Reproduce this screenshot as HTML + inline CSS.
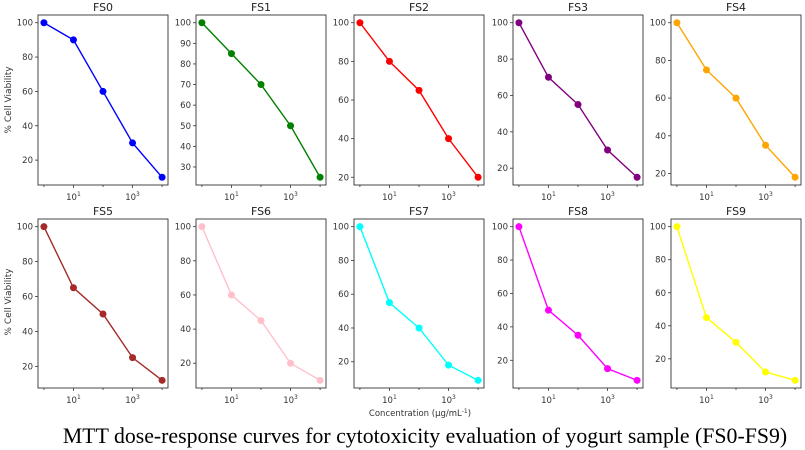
<!DOCTYPE html>
<html><head><meta charset="utf-8"><style>
html,body{margin:0;padding:0;background:#fff;}
svg{display:block;font-family:"DejaVu Sans","Liberation Sans",sans-serif;}
</style></head><body>
<svg id="s" width="805" height="450" xmlns="http://www.w3.org/2000/svg"></svg>
<script>
const data=[
["FS0","#0000ff",[100,90,60,30,10]],
["FS1","#008000",[100,85,70,50,25]],
["FS2","#ff0000",[100,80,65,40,20]],
["FS3","#800080",[100,70,55,30,15]],
["FS4","#ffa500",[100,75,60,35,18]],
["FS5","#a52a2a",[100,65,50,25,12]],
["FS6","#ffc0cb",[100,60,45,20,10]],
["FS7","#00ffff",[100,55,40,18,9]],
["FS8","#ff00ff",[100,50,35,15,8]],
["FS9","#ffff00",[100,45,30,12,7]]];
const lefts=[38,196,354,513,671],W=130;
const rows=[[15,185],[219,388]];
let h='';
data.forEach((d,i)=>{
 const c=i%5,r=Math.floor(i/5);
 const L=lefts[c],T=rows[r][0],B=rows[r][1],H=B-T;
 const v=d[2],mn=Math.min(...v),mx=Math.max(...v),rg=mx-mn;
 const lo=mn-0.05*rg,hi=mx+0.05*rg;
 const Y=y=>T+(hi-y)/(hi-lo)*H;
 const X=k=>L+(k+0.2)/4.4*W;
 h+=`<text x="${L+W/2}" y="${T-4}" font-size="11" text-anchor="middle" fill="#222">${d[0]}</text>`;
 const step=(d[0]=="FS1")?10:20;
 for(let t=Math.ceil(lo/step)*step;t<=hi;t+=step){
  const y=Y(t);
  h+=`<line x1="${L-3}" x2="${L}" y1="${y}" y2="${y}" stroke="#333" stroke-width="0.8"/>`;
  h+=`<text x="${L-5}" y="${y+3}" font-size="8.5" text-anchor="end" fill="#333">${t}</text>`;
 }
 for(let k=0;k<=4;k++){
  const x=X(k);
  h+=`<line x1="${x}" x2="${x}" y1="${B}" y2="${B+(k%2?3:2)}" stroke="#333" stroke-width="0.8"/>`;
  if(k==1||k==3) h+=`<text x="${x}" y="${B+15}" font-size="8.5" text-anchor="middle" fill="#333">10<tspan font-size="6" dy="-4">${k}</tspan></text>`;
 }
 h+=`<rect x="${L}" y="${T}" width="${W}" height="${H}" fill="none" stroke="#333" stroke-width="0.9"/>`;
 const pts=v.map((y,k)=>X(k)+','+Y(y)).join(' ');
 h+=`<polyline points="${pts}" fill="none" stroke="${d[1]}" stroke-width="1.4"/>`;
 v.forEach((y,k)=>h+=`<circle cx="${X(k)}" cy="${Y(y)}" r="3.5" fill="${d[1]}"/>`);
});
h+=`<text transform="translate(11,100) rotate(-90)" font-size="9" text-anchor="middle" fill="#333">% Cell Viability</text>`;
h+=`<text transform="translate(11,302) rotate(-90)" font-size="9" text-anchor="middle" fill="#333">% Cell Viability</text>`;
h+=`<text x="420" y="416" font-size="8.5" text-anchor="middle" fill="#333">Concentration (μg/mL<tspan font-size="6" dy="-3">-1</tspan><tspan dy="3">)</tspan></text>`;
h+=`<text x="425" y="443" font-size="21.8" text-anchor="middle" fill="#000" font-family="Liberation Serif,serif">MTT dose-response curves for cytotoxicity evaluation of yogurt sample (FS0-FS9)</text>`;
document.getElementById('s').innerHTML=h;
</script>
</body></html>
